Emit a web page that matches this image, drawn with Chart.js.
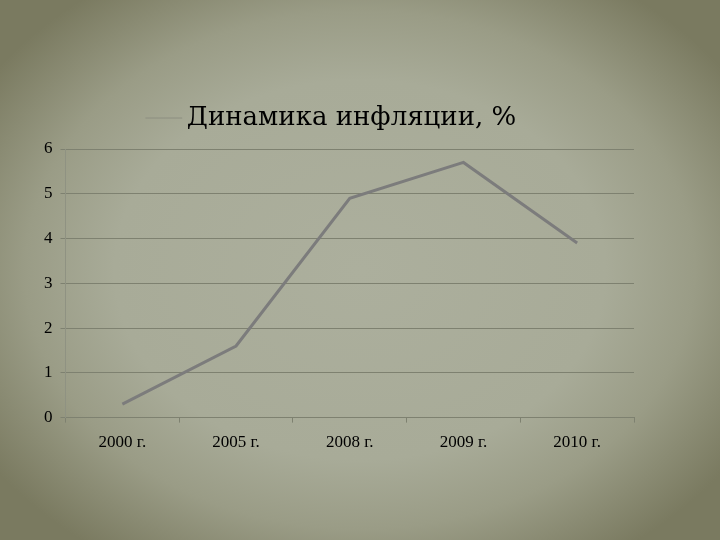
<!DOCTYPE html>
<html>
<head>
<meta charset="utf-8">
<script src="https://cdn.jsdelivr.net/npm/chart.js@4"></script>
<style>
  html, body { margin: 0; padding: 0; }
  body {
    width: 720px; height: 540px; overflow: hidden;
    background: radial-gradient(ellipse 62% 64% at 50% 50%, #acaf9d 0%, #a8ab98 55%, #9a9c86 75%, #7a7a60 100%);
  }
  #wrap { position: absolute; left: 0; top: 0; width: 720px; height: 540px; }
</style>
</head>
<body>
<div id="wrap"><canvas id="inflationChart" width="720" height="540"></canvas></div>
<script>
const years = ['2000 г.', '2005 г.', '2008 г.', '2009 г.', '2010 г.'];
const inflation = [0.3, 1.6, 4.9, 5.7, 3.9];
const seriesName = 'Динамика инфляции, %';
const yTicks = [0, 1, 2, 3, 4, 5, 6];

const serif = '"Liberation Serif", "DejaVu Serif", serif';

// extra space between the legend line and the plot area
const legendGap = {
  id: 'legendGap',
  beforeLayout(chart) {
    const lg = chart.legend;
    if (lg && !lg._gapped) {
      const fit = lg.fit.bind(lg);
      lg.fit = function () { fit(); this.height += 8; };
      lg._gapped = true;
    }
  }
};

const ctx = document.getElementById('inflationChart').getContext('2d');
new Chart(ctx, {
  type: 'line',
  data: {
    labels: years,
    datasets: [{
      label: seriesName,
      data: inflation,
      borderColor: '#7c7c7c',
      backgroundColor: '#7c7c7c',
      borderWidth: 3,
      pointRadius: 0,
      tension: 0
    }]
  },
  plugins: [legendGap],
  options: {
    responsive: false,
    animation: false,
    layout: { padding: { left: 36, right: 86, top: 85, bottom: 77 } },
    plugins: {
      tooltip: { enabled: false },
      legend: {
        position: 'top',
        labels: {
          usePointStyle: true,
          pointStyle: 'line',
          boxWidth: 20,
          color: '#000',
          font: { family: '"DejaVu Serif", serif', size: 26 },
          padding: 20,
          generateLabels: chart => Chart.defaults.plugins.legend.labels.generateLabels(chart)
            .map(item => Object.assign(item, { lineWidth: 1, strokeStyle: '#8c8e80' }))
        }
      }
    },
    scales: {
      x: {
        offset: true,
        grid: {
          offset: true,
          drawOnChartArea: false,
          drawTicks: true,
          tickLength: 5,
          color: '#7e8170'
        },
        border: { color: '#7e8170' },
        ticks: {
          color: '#000',
          font: { family: serif, size: 17 },
          padding: 10
        }
      },
      y: {
        min: 0,
        max: 6,
        afterBuildTicks: axis => { axis.ticks = yTicks.map(v => ({ value: v })); },
        grid: {
          color: '#7e8170',
          tickLength: 5
        },
        border: { color: '#8f9282' },
        ticks: {
          color: '#000',
          font: { family: serif, size: 17 },
          padding: 8
        }
      }
    }
  }
});
</script>
</body>
</html>
